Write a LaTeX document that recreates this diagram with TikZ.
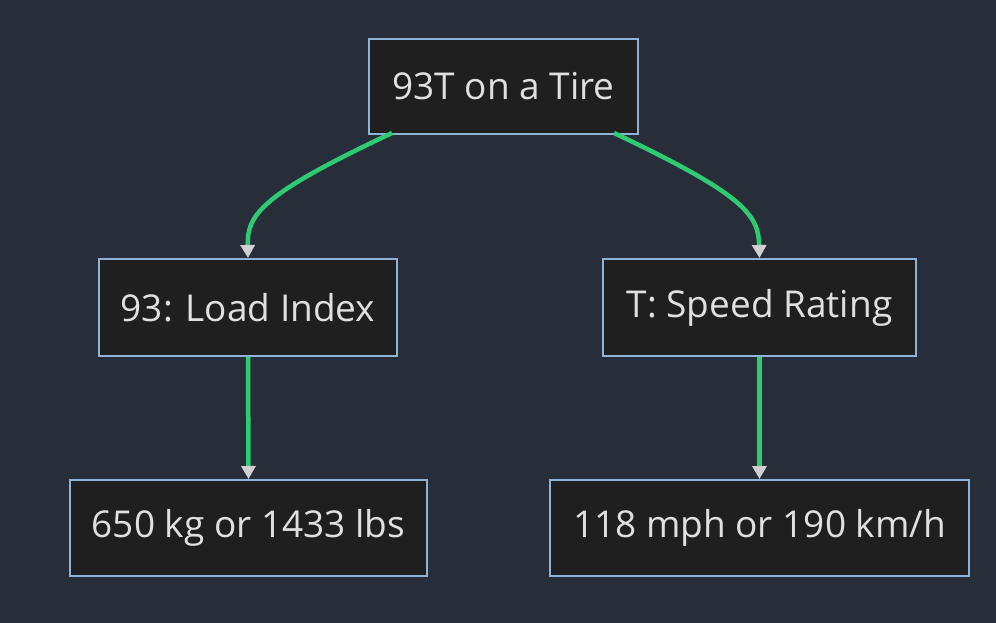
\documentclass[tikz,border=0pt]{standalone}
\usepackage{fontspec}
\setmainfont{Open Sans}
\usetikzlibrary{arrows.meta}
\definecolor{bg}{HTML}{282D3A}
\definecolor{nodefill}{HTML}{1F1F1F}
\definecolor{nodeborder}{HTML}{8FB3D6}
\definecolor{edge}{HTML}{2ECC71}
\definecolor{tip}{HTML}{D0D0D0}
\definecolor{txt}{HTML}{E0E0E0}
\begin{document}
\begin{tikzpicture}[x=1pt,y=-1pt,
  box/.style={draw=nodeborder,fill=nodefill,line width=2pt,text=txt,font=\fontsize{37}{44}\selectfont,inner sep=0pt,anchor=north west},
  link/.style={draw=edge,line width=4.5pt,-{Triangle[length=13pt,width=14pt,color=tip]}}]
\fill[bg] (0,0) rectangle (996,623);
\useasboundingbox (0,0) rectangle (996,623);
\node[box,minimum width=269pt,minimum height=95pt] (top) at (368,38) {93T on a Tire};
\node[box,minimum width=298pt,minimum height=97pt] (load) at (98,258) {93: Load Index};
\node[box,minimum width=313pt,minimum height=97pt] (speed) at (602,258) {T: Speed Rating};
\node[box,minimum width=357pt,minimum height=96pt] (kg) at (69,479) {650 kg or 1433 lbs};
\node[box,minimum width=419pt,minimum height=96pt] (mph) at (549,479) {118 mph or 190 km/h};
\coordinate (t1) at (392,133);
\coordinate (t2) at (614,133);
\draw[link] (t1) .. controls (260,195) and (247,215) .. (load.north);
\draw[link] (t2) .. controls (745,195) and (758.5,215) .. (speed.north);
\draw[link] (load.south) -- (kg.north);
\draw[link] (speed.south) -- (mph.north);
\end{tikzpicture}
\end{document}
